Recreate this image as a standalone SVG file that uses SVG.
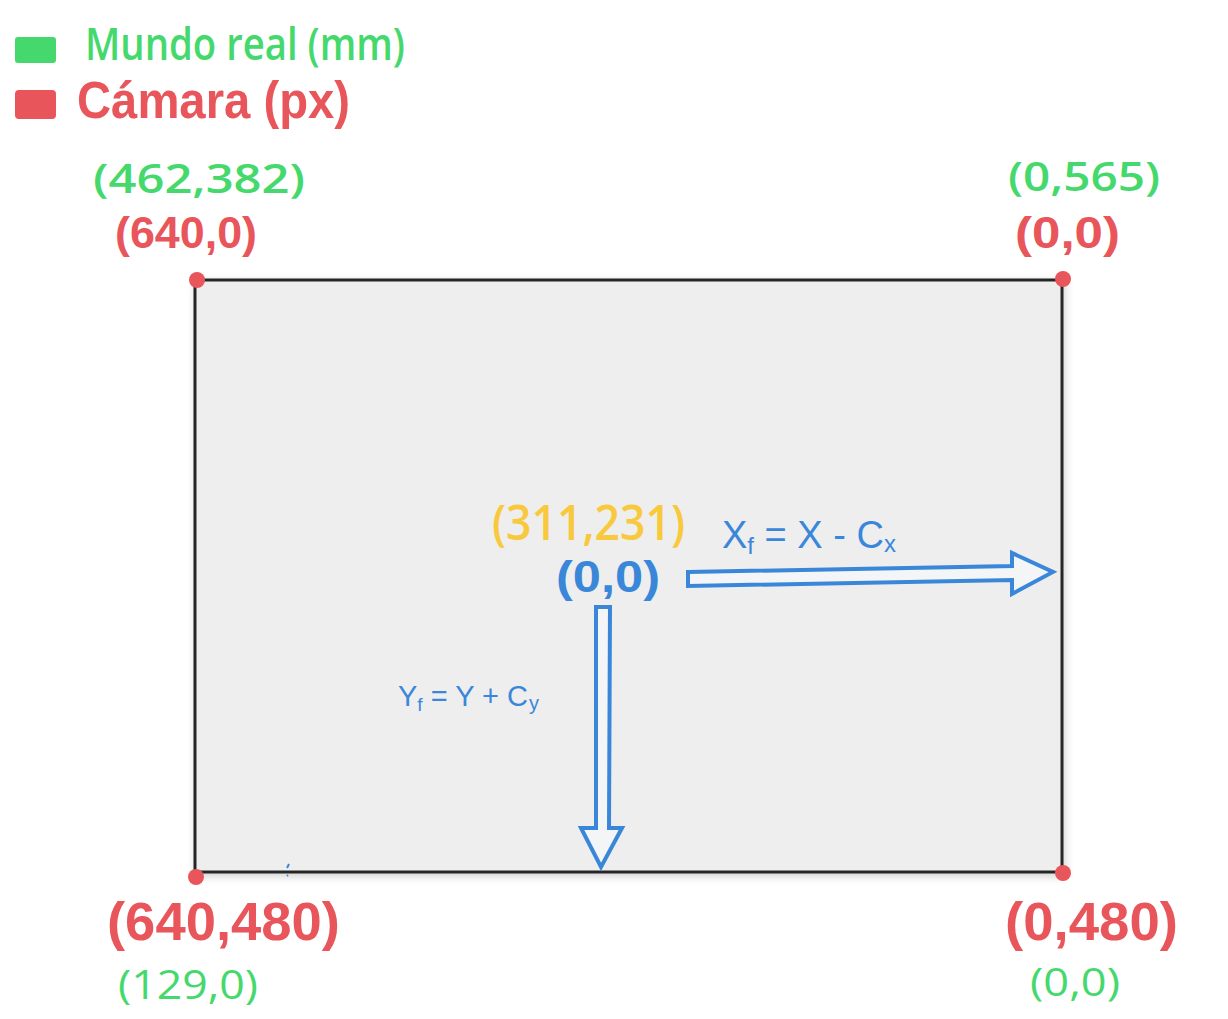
<svg xmlns="http://www.w3.org/2000/svg" width="1228" height="1019" viewBox="0 0 1228 1019">
<defs>
<style>
text{font-family:"Liberation Sans","Open Sans",sans-serif}
.g{fill:#45d96d;font-family:"Open Sans","Liberation Sans",sans-serif;font-weight:600}
.r{fill:#e8555a;font-weight:bold}
.y{fill:#f8c93c;font-family:"Open Sans","Liberation Sans",sans-serif;font-weight:600}
.b{fill:#3a87d9}
.dot{fill:#e8555a}
.arrow{fill:#f3f5f7;stroke:#3a87d9;stroke-width:4;stroke-linejoin:miter}
</style>
<filter id="sh" x="-5%" y="-5%" width="110%" height="110%">
<feDropShadow dx="2" dy="3" stdDeviation="4" flood-color="#000" flood-opacity="0.18"/>
</filter>
</defs>
<rect width="1228" height="1019" fill="#ffffff"/>

<g id="legend">
<rect x="15" y="37" width="41" height="26" rx="3" fill="#45d96d"/>
<rect x="15" y="90" width="41" height="29" rx="4" fill="#e8555a"/>
<text class="g" x="85" y="60" font-size="46" textLength="320" lengthAdjust="spacingAndGlyphs">Mundo real (mm)</text>
<text class="r" x="77" y="118" font-size="52" textLength="273" lengthAdjust="spacingAndGlyphs">Cámara (px)</text>
</g>

<g id="frame">
<rect x="195" y="280" width="867" height="592" fill="#eeeeee" stroke="#262626" stroke-width="3" filter="url(#sh)"/>
<path d="M287 868 l2 -4 M287 876 l1 -1" stroke="#3a87d9" stroke-width="2"/>
</g>

<g id="corner-top-left">
<circle class="dot" cx="197" cy="280" r="8"/>
<text class="g" x="93" y="193" font-size="40" textLength="212" lengthAdjust="spacingAndGlyphs">(462,382)</text>
<text class="r" x="115" y="248" font-size="44" textLength="142" lengthAdjust="spacingAndGlyphs">(640,0)</text>
</g>

<g id="corner-top-right">
<circle class="dot" cx="1063" cy="279" r="8"/>
<text class="g" x="1008" y="191" font-size="40" textLength="152" lengthAdjust="spacingAndGlyphs">(0,565)</text>
<text class="r" x="1015" y="248" font-size="44" textLength="105" lengthAdjust="spacingAndGlyphs">(0,0)</text>
</g>

<g id="corner-bottom-left">
<circle class="dot" cx="196" cy="877" r="8"/>
<text class="r" x="107" y="940" font-size="54" textLength="233" lengthAdjust="spacingAndGlyphs">(640,480)</text>
<text class="g" x="118" y="999" font-size="40" style="font-weight:400" textLength="140" lengthAdjust="spacingAndGlyphs">(129,0)</text>
</g>

<g id="corner-bottom-right">
<circle class="dot" cx="1063" cy="873" r="8"/>
<text class="r" x="1005" y="940" font-size="54" textLength="173" lengthAdjust="spacingAndGlyphs">(0,480)</text>
<text class="g" x="1030" y="996" font-size="38" style="font-weight:400" textLength="90" lengthAdjust="spacingAndGlyphs">(0,0)</text>
</g>

<g id="origin">
<text class="y" x="492" y="540" font-size="48" textLength="193" lengthAdjust="spacingAndGlyphs">(311,231)</text>
<text class="b" x="556" y="592" font-size="44" font-weight="bold" textLength="104" lengthAdjust="spacingAndGlyphs">(0,0)</text>
</g>

<g id="connectors">
<path class="arrow" d="M688 572 L1012 566 L1012 553 L1053 572 L1012 594 L1012 580 L688 586 Z"/>
<path class="arrow" d="M596 607 L610 607 L609 828 L622 828 L601 867 L581 828 L596 828 Z"/>
<text class="b" x="722" y="548" font-size="38">X<tspan font-size="24" dy="6">f</tspan><tspan dy="-6"> = X - C</tspan><tspan font-size="24" dy="4">x</tspan></text>
<text class="b" x="398" y="706" font-size="29">Y<tspan font-size="19" dy="5">f</tspan><tspan dy="-5"> = Y + C</tspan><tspan font-size="20" dy="4" dx="1">y</tspan></text>
</g>
</svg>
